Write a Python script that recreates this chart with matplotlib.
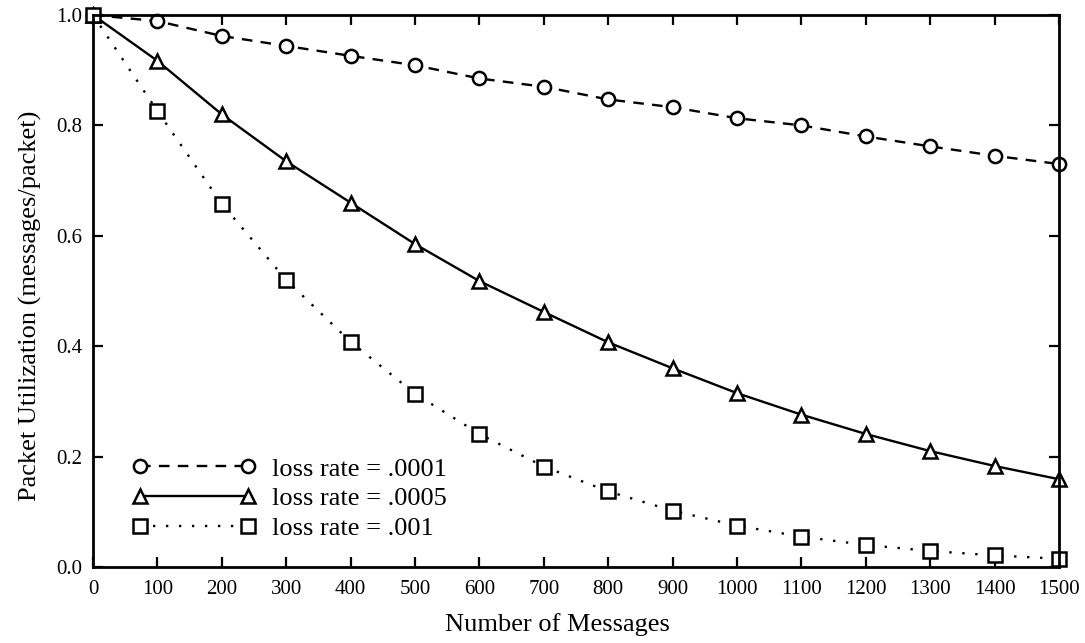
import matplotlib
matplotlib.use("Agg")
import matplotlib.pyplot as plt

messages = [0, 100, 200, 300, 400, 500, 600, 700, 800, 900, 1000, 1100, 1200, 1300, 1400, 1500]
util_0001 = [1.0, 0.989, 0.962, 0.944, 0.926, 0.909, 0.885, 0.870, 0.847, 0.833, 0.813, 0.800, 0.780, 0.762, 0.745, 0.730]
util_0005 = [1.0, 0.917, 0.820, 0.735, 0.660, 0.585, 0.518, 0.462, 0.407, 0.360, 0.315, 0.276, 0.241, 0.210, 0.183, 0.159]
util_001 = [1.0, 0.826, 0.658, 0.520, 0.408, 0.314, 0.241, 0.182, 0.137, 0.102, 0.075, 0.055, 0.040, 0.029, 0.021, 0.015]
labels = ["loss rate = .0001", "loss rate = .0005", "loss rate = .001"]

plt.rcParams['font.family'] = ['Liberation Serif', 'DejaVu Serif']

fig = plt.figure(figsize=(10.85, 6.43), dpi=100)
ax = fig.add_axes([93/1085, 1 - 567/643, (1059-93)/1085, (567-15)/643])

common = dict(color='black', markerfacecolor='white', markeredgecolor='black',
              markersize=9.5, markeredgewidth=1.8, linewidth=1.7, clip_on=False)
ax.plot(messages, util_0001, linestyle=(0, (4.5, 3.5)), marker='o', label=labels[0], **common)
ax.plot(messages, util_0005, linestyle='-', marker='^', label=labels[1], **common)
ax.plot(messages, util_001, linestyle=(0, (1, 4.5)), marker='s', label=labels[2], **common)

ax.set_xlim(0, 1500)
ax.set_ylim(0, 1.0)
ax.set_xticks(range(0, 1501, 100))
ax.set_yticks([0.0, 0.2, 0.4, 0.6, 0.8, 1.0])
ax.set_yticklabels(["0.0", "0.2", "0.4", "0.6", "0.8", "1.0"])
ax.tick_params(direction='in', top=True, right=True, length=7, width=1.6, labelsize=15, pad=9)
ax.tick_params(axis='y', pad=8)
for s in ax.spines.values():
    s.set_linewidth(2.0)

ax.set_xlabel("Number of Messages", fontsize=19, va='center')
ax.set_ylabel("Packet Utilization (messages/packet)", fontsize=19, va='center')
ax.xaxis.set_label_coords(0.481, -0.105)
ax.yaxis.set_label_coords(-0.065, 0.473)

ax.legend(loc='lower left', bbox_to_anchor=(0.030, 0.03), frameon=False, fontsize=19,
          numpoints=2, handlelength=4.69, handletextpad=0.6, labelspacing=0.235,
          borderaxespad=0)

fig.savefig("out.png", dpi=100)
